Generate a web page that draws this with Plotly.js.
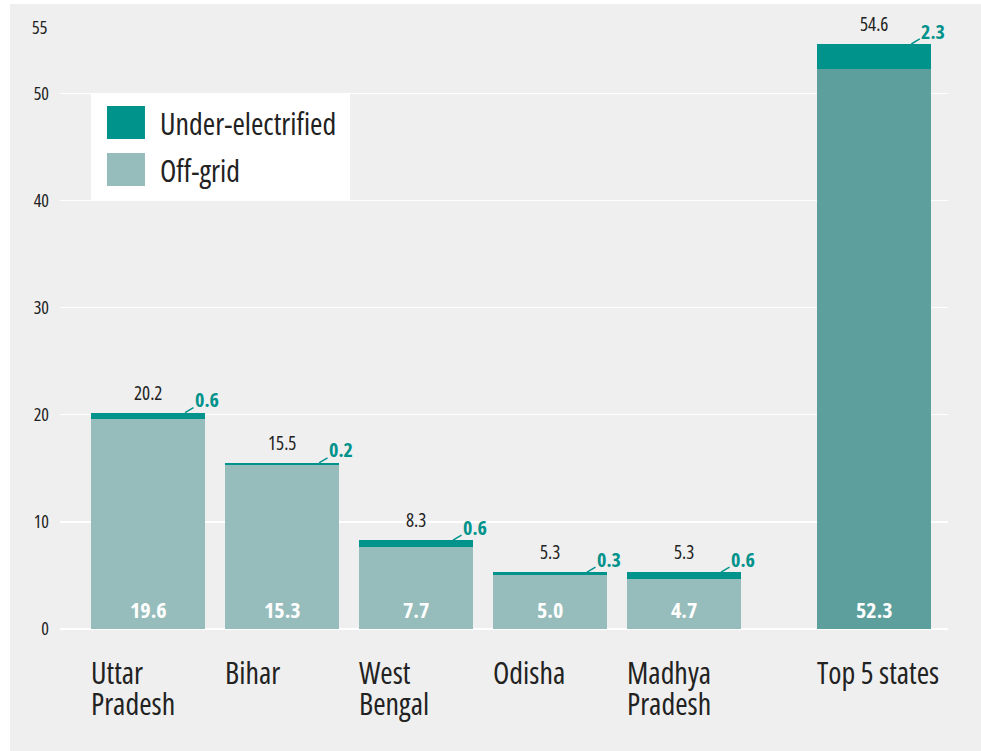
<!DOCTYPE html>
<html>
<head>
<meta charset="utf-8">
<script src="https://cdn.plot.ly/plotly-3.0.1.min.js"></script>
<style>
  html, body { margin: 0; padding: 0; background: #ffffff; width: 981px; height: 751px; overflow: hidden; }
  #chart { position: absolute; left: 10px; top: 4px; width: 971px; height: 747px; }
  svg text { font-stretch: 75% !important; }
</style>
</head>
<body>
<div id="chart"></div>
<script>
// ---- data ----
const categories = ['Uttar<br>Pradesh', 'Bihar', 'West<br>Bengal', 'Odisha', 'Madhya<br>Pradesh', 'Top 5 states'];
const offGrid = [19.6, 15.3, 7.7, 5.0, 4.7, 52.3];
const underElectrified = [0.6, 0.2, 0.6, 0.3, 0.6, 2.3];
const totals = [20.2, 15.5, 8.3, 5.3, 5.3, 54.6];
const yTickValues = [0, 10, 20, 30, 40, 50];
const yTickLabels = ['0', '10', '20', '30', '40', '50'];
const yTopLabel = '55';
const seriesNames = ['Under-electrified', 'Off-grid'];

// ---- style ----
const FONT = '"Open Sans", "Roboto", sans-serif';
const TEAL = '#00938c';
const LIGHT = '#96bdbc';
const DARK = '#5c9f9c';
const TXT = '#222222';
const BAR_W = 0.85;

// positions: states evenly spaced, summary bar set apart
const xpos = categories.map((c, i) => i < categories.length - 1 ? i : i + 0.42);
const offColors = categories.map((c, i) => i < categories.length - 1 ? LIGHT : DARK);

const traces = [
  {
    type: 'bar', x: xpos, y: offGrid, name: seriesNames[1], width: BAR_W,
    marker: { color: offColors, line: { width: 0 } }, hoverinfo: 'skip', showlegend: false
  },
  {
    type: 'bar', x: xpos, y: underElectrified, name: seriesNames[0], width: BAR_W,
    marker: { color: TEAL, line: { width: 0 } }, hoverinfo: 'skip', showlegend: false
  }
];

const annotations = [];
xpos.forEach((x, i) => {
  // total above bar
  annotations.push({
    x: x, y: totals[i], xref: 'x', yref: 'y', text: totals[i].toFixed(1),
    showarrow: false, yanchor: 'bottom', yshift: 5,
    font: { family: FONT, size: 19, color: TXT }
  });
  // under-electrified value with leader line
  annotations.push({
    x: x + 0.276, y: totals[i], xref: 'x', yref: 'y', text: '<b>' + underElectrified[i].toFixed(1) + '</b>',
    showarrow: true, arrowhead: 0, arrowwidth: 1.5, arrowcolor: TEAL, ax: 22, ay: -13, standoff: 0,
    font: { family: FONT, size: 20, color: TEAL }
  });
  // off-grid value inside the bar
  annotations.push({
    x: x, y: 0, xref: 'x', yref: 'y', text: '<b>' + offGrid[i].toFixed(1) + '</b>',
    showarrow: false, yanchor: 'bottom', yshift: 3,
    font: { family: FONT, size: 22, color: '#ffffff' }
  });
  // category label lines
  categories[i].split('<br>').forEach((line, k) => {
    annotations.push({
      x: x - BAR_W / 2, y: 0, xref: 'x', yref: 'paper', text: line,
      showarrow: false, xanchor: 'left', yanchor: 'top', xshift: -2, yshift: -21 - 31 * k,
      font: { family: FONT, size: 30, color: TXT }
    });
  });
});
// top axis label
annotations.push({
  x: 0, y: 1, xref: 'paper', yref: 'paper', text: yTopLabel, showarrow: false,
  xanchor: 'right', yanchor: 'middle', xshift: -11, yshift: 2,
  font: { family: FONT, size: 18, color: TXT }
});
// legend labels
annotations.push({
  x: 0.1104, y: 0.8433, xref: 'paper', yref: 'paper', text: seriesNames[0], showarrow: false,
  xanchor: 'left', yanchor: 'middle', font: { family: FONT, size: 30, color: TXT }
});
annotations.push({
  x: 0.1104, y: 0.765, xref: 'paper', yref: 'paper', text: seriesNames[1], showarrow: false,
  xanchor: 'left', yanchor: 'middle', font: { family: FONT, size: 30, color: TXT }
});

const shapes = [
  { type: 'rect', xref: 'paper', yref: 'paper', x0: 0.0349, x1: 0.3266, y0: 0.715, y1: 0.8933,
    fillcolor: '#ffffff', line: { width: 0 }, layer: 'above' },
  { type: 'rect', xref: 'paper', yref: 'paper', x0: 0.0529, x1: 0.0957, y0: 0.8167, y1: 0.8717,
    fillcolor: TEAL, line: { width: 0 }, layer: 'above' },
  { type: 'rect', xref: 'paper', yref: 'paper', x0: 0.0529, x1: 0.0957, y0: 0.7383, y1: 0.7933,
    fillcolor: LIGHT, line: { width: 0 }, layer: 'above' }
];

const layout = {
  width: 971, height: 747,
  margin: { l: 50, r: 33, t: 25, b: 122 },
  paper_bgcolor: '#efefef', plot_bgcolor: '#efefef',
  barmode: 'stack', bargap: 0,
  showlegend: false,
  font: { family: FONT, color: TXT },
  xaxis: {
    range: [-0.657, 5.970], showgrid: false, zeroline: false, showticklabels: false,
    showline: false, ticks: '', fixedrange: true
  },
  yaxis: {
    range: [0, 56], tickvals: yTickValues, ticktext: yTickLabels,
    showgrid: true, gridcolor: '#ffffff', gridwidth: 1.5,
    zeroline: true, zerolinecolor: '#ffffff', zerolinewidth: 1.5,
    showline: false, ticks: '', ticklabelstandoff: 10,
    tickfont: { family: FONT, size: 18, color: TXT }, fixedrange: true
  },
  annotations: annotations,
  shapes: shapes
};

Plotly.newPlot('chart', traces, layout, { displayModeBar: false, staticPlot: true });
</script>
</body>
</html>
